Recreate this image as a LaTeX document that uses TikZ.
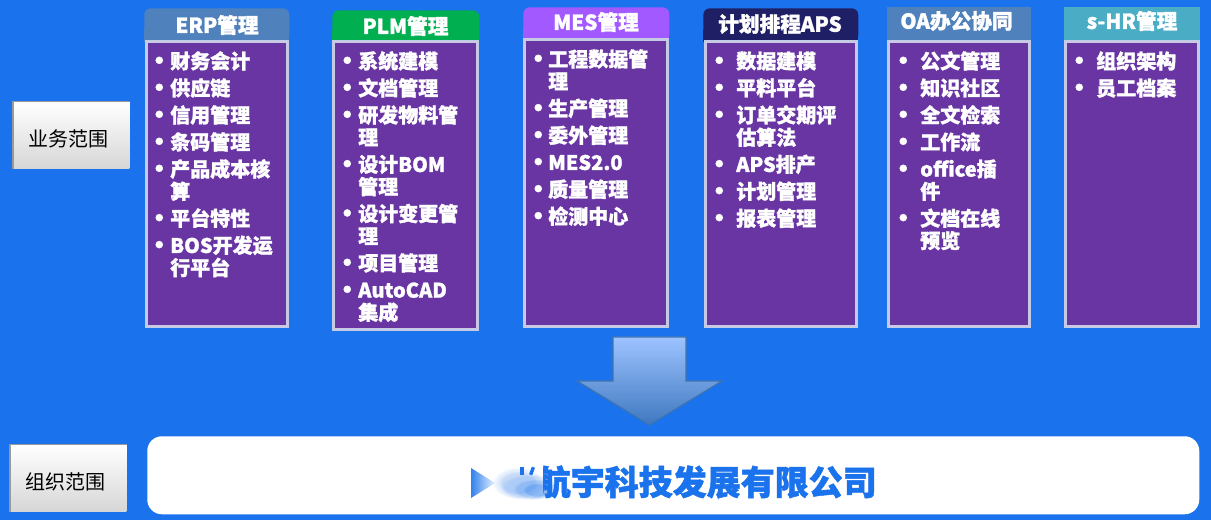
\documentclass[tikz,border=0pt]{standalone}
\usepackage{fontspec}
\setmainfont{Noto Sans CJK SC}[BoldFeatures={FakeBold=1.4}]
\usetikzlibrary{positioning, fadings}
\definecolor{pagebg}{RGB}{26, 115, 236}
\definecolor{bodypurple}{RGB}{104, 53, 163}
\definecolor{bodyedge}{RGB}{197, 203, 229}
\definecolor{erpblue}{RGB}{79, 129, 189}
\definecolor{plmgreen}{RGB}{0, 176, 80}
\definecolor{mesviolet}{RGB}{162, 89, 255}
\definecolor{apsnavy}{RGB}{31, 31, 102}
\definecolor{hrteal}{RGB}{75, 172, 198}
\definecolor{arrowtop}{RGB}{157, 195, 255}
\definecolor{arrowbottom}{RGB}{63, 120, 192}
\definecolor{arrowedge}{RGB}{62, 115, 176}
\newenvironment{featlist}[1]{%
  \begin{list}{\makebox[0pt][l]{\hspace*{-6.5pt}\raisebox{-1pt}{\fontsize{19}{17}\selectfont\textbullet}}}{%
    \setlength{\leftmargin}{#1}\setlength{\labelwidth}{#1}\setlength{\labelsep}{0pt}%
    \setlength{\itemsep}{3.5pt}\setlength{\parsep}{0pt}\setlength{\topsep}{0pt}\setlength{\partopsep}{0pt}%
    \setlength{\rightmargin}{0pt}\setlength{\itemindent}{0pt}%
    \renewcommand{\makelabel}[1]{##1\hfil}}%
  \raggedright
}{\end{list}}
\tikzset{
  headcell/.style={rectangle, rounded corners=5pt, minimum height=25pt, inner sep=0pt, anchor=north west},
  headtext/.style={text=white, font=\fontsize{15.5}{18}\selectfont\bfseries},
  bodycell/.style={rectangle, draw=bodyedge, line width=2.2pt, outer sep=0pt, fill=bodypurple, anchor=north west},
  listtext/.style={text=white, anchor=north west, inner sep=0pt, align=left, font=\fontsize{15}{16.75}\selectfont\bfseries},
  scopebtn/.style={rectangle, top color=white, bottom color=gray!32, inner sep=0pt, minimum width=87pt, minimum height=50pt, anchor=north west},
  scopetext/.style={text=black, inner sep=0pt, font=\fontsize{15}{18}\selectfont},
  btnedge/.style={draw=gray!80, line width=1.1pt},
  blurblob/.style={fill=pagebg, path fading=circle with fuzzy edge 20 percent}
}
\begin{document}
\begin{tikzpicture}[x=0.75pt, y=-0.75pt]
    \useasboundingbox[fill=pagebg] (0,0) rectangle (1211,520);

    % Scope buttons on the left
    \node[scopebtn] (BizScope) at (13,101.5) {};
    \draw[btnedge] (BizScope.south west) -- (BizScope.north west) -- (BizScope.north east);
    \node[scopetext] (BizText) at (68.5,139) {业务范围};
    \node[scopebtn] (OrgScope) at (10,444.5) {};
    \draw[btnedge] (OrgScope.south west) -- (OrgScope.north west) -- (OrgScope.north east);
    \node[scopetext] (OrgText) at (66,482) {组织范围};

    % ERP
    \node[headcell, fill=erpblue, minimum width=108.75pt] (ErpHead) at (144,8) {};
    \fill[erpblue] (144,30) rectangle (289,42);
    \node[headtext] (ErpTitle) at (217,25) {ERP管理};
    \node[bodycell, minimum width=105.75pt, minimum height=213.75pt] (ErpBody) at (146.5,41.5) {};
    \node[listtext, text width=104pt] (ErpList) at (155,46) {\begin{featlist}{11.25pt}
        \item 财务会计
        \item 供应链
        \item 信用管理
        \item 条码管理
        \item 产品成本核\\算
        \item 平台特性
        \item BOS开发运\\行平台
    \end{featlist}};

    % PLM
    \node[headcell, fill=plmgreen, minimum width=110.25pt] (PlmHead) at (332,10) {};
    \fill[plmgreen] (332,30) rectangle (479,42);
    \node[headtext] (PlmTitle) at (405.5,26) {PLM管理};
    \node[bodycell, minimum width=108pt, minimum height=216pt] (PlmBody) at (333.5,41.5) {};
    \node[listtext, text width=104pt] (PlmList) at (343,46) {\begin{featlist}{11.25pt}
        \item 系统建模
        \item 文档管理
        \item 研发物料管\\理
        \item 设计BOM\\管理
        \item 设计变更管\\理
        \item 项目管理
        \item AutoCAD\\集成
    \end{featlist}};

    % MES
    \node[headcell, fill=mesviolet, minimum width=109.5pt] (MesHead) at (523,7) {};
    \fill[mesviolet] (523,28) rectangle (669,40);
    \node[headtext] (MesTitle) at (596,22) {MES管理};
    \node[bodycell, minimum width=107.25pt, minimum height=215.25pt] (MesBody) at (524.5,39.5) {};
    \node[listtext, text width=104pt] (MesList) at (534,44) {\begin{featlist}{10.5pt}
        \item 工程数据管\\理
        \item 生产管理
        \item 委外管理
        \item MES2.0
        \item 质量管理
        \item 检测中心
    \end{featlist}};

    % APS
    \node[headcell, fill=apsnavy, minimum width=116.25pt] (ApsHead) at (703,8) {};
    \fill[apsnavy] (703,30) rectangle (858,42);
    \node[headtext] (ApsTitle) at (780,24) {计划排程APS};
    \node[bodycell, minimum width=113.25pt, minimum height=213.75pt] (ApsBody) at (705.5,41.5) {};
    \node[listtext, text width=110pt] (ApsList) at (715,46) {\begin{featlist}{15.75pt}
        \item 数据建模
        \item 平料平台
        \item 订单交期评\\估算法
        \item APS排产
        \item 计划管理
        \item 报表管理
    \end{featlist}};

    % OA
    \node[headcell, fill=erpblue, rounded corners=0pt, minimum width=108pt] (OaHead) at (887,7) {};
    \node[headtext] (OaTitle) at (956.5,21) {OA办公协同};
    \node[bodycell, minimum width=105.75pt, minimum height=213.75pt] (OaBody) at (888.5,41.5) {};
    \node[listtext, text width=100pt] (OaList) at (899,46) {\begin{featlist}{15.75pt}
        \item 公文管理
        \item 知识社区
        \item 全文检索
        \item 工作流
        \item office插\\件
        \item 文档在线\\预览
    \end{featlist}};

    % s-HR
    \node[headcell, fill=hrteal, rounded corners=0pt, minimum width=102pt] (HrHead) at (1064,7) {};
    \node[headtext] (HrTitle) at (1132,21) {s-HR管理};
    \node[bodycell, minimum width=99.75pt, minimum height=213.75pt] (HrBody) at (1065.5,41.5) {};
    \node[listtext, text width=95pt] (HrList) at (1075,46) {\begin{featlist}{15.75pt}
        \item 组织架构
        \item 员工档案
    \end{featlist}};

    % Big arrow and the company bar
    \shade[top color=arrowtop, bottom color=arrowbottom, draw=arrowedge, line width=0.9pt]
        (613,337) -- (686,337) -- (686,381) -- (722,381) -- (649.5,425) -- (577,381) -- (613,381) -- cycle;
    \node[rectangle, rounded corners=11pt, fill=white, minimum width=789pt, minimum height=58.5pt, inner sep=0pt, anchor=north west] (CompanyBar) at (147,436) {};
    \node[anchor=east, inner sep=0pt, text=pagebg, font=\fontsize{25.5}{28}\selectfont\bfseries] (CompanyName) at (877,482) {航宇科技发展有限公司};

    % Blurred part of the name
    \shade[left color=pagebg!90, right color=pagebg!10] (471,468) -- (471,498) -- (495,483) -- cycle;
    \fill[white] (512,466) rectangle (543,500);
    \fill[blurblob, opacity=0.12] (518,483) ellipse (26 and 16);
    \fill[blurblob, opacity=0.14] (518,483) ellipse (20 and 12);
    \fill[blurblob, opacity=0.14] (530,487) ellipse (30 and 13);
    \fill[blurblob, opacity=0.20] (535,489) ellipse (22 and 10);
    \fill[blurblob, opacity=0.25] (537,490) ellipse (14 and 7);
    \node[rectangle, fill=pagebg, minimum width=2.5pt, minimum height=6pt, inner sep=0pt] (BlurMarkA) at (522,471) {};
    \node[rectangle, fill=pagebg, minimum width=2.5pt, minimum height=6pt, inner sep=0pt, rotate=-20] (BlurMarkB) at (532,471) {};
\end{tikzpicture}
\end{document}
